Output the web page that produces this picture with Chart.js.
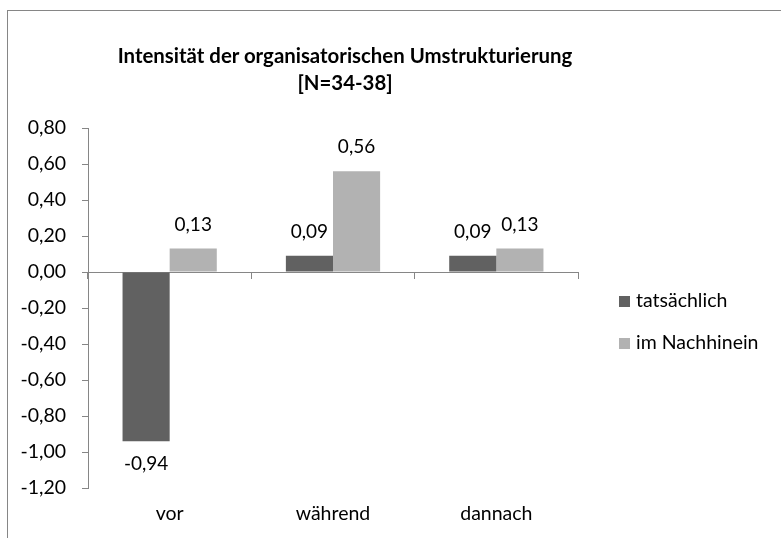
<!DOCTYPE html>
<html>
<head>
<meta charset="utf-8">
<script src="https://cdn.jsdelivr.net/npm/chart.js@4.4.1/dist/chart.umd.min.js"></script>
<style>
  body { margin: 0; background: #fff; }
  #wrap { position: relative; width: 781px; height: 538px; overflow: hidden; background: #fff; font-family: Lato, sans-serif; }
  #frame { position: absolute; left: 7px; top: 10px; width: 900px; height: 700px; border: 1px solid #868686; }
  #chart { position: absolute; left: 0; top: 0; }
  #title { position: absolute; left: 45px; width: 600px; top: 42px; text-align: center; font-weight: bold; font-size: 20.4px; line-height: 27px; color: #000; }
  #legend { position: absolute; left: 619px; top: 288px; font-size: 19.5px; color: #000; }
  #legend div { height: 24px; line-height: 24px; margin-bottom: 18px; white-space: nowrap; }
  #legend span { display: inline-block; width: 11px; height: 11px; margin-right: 6px; vertical-align: 0px; }
</style>
</head>
<body>
<div id="wrap">
  <div id="frame"></div>
  <canvas id="chart" width="781" height="538"></canvas>
  <div id="title">Intensität der organisatorischen Umstrukturierung<br>[N=34-38]</div>
  <div id="legend"></div>
</div>
<script>
const categories = ["vor", "während", "dannach"];
const seriesNames = ["tatsächlich", "im Nachhinein"];
const tatsaechlich = [-0.94, 0.09, 0.09];
const imNachhinein = [0.13, 0.56, 0.13];
const seriesColors = ["#616161", "#b2b2b2"];

const axisColor = "#868686";

function fmt(v) {
  if (Math.abs(v) < 1e-9) v = 0;
  return v.toFixed(2).replace(".", ",");
}

// labels over / under every bar
const valueLabels = {
  id: "valueLabels",
  afterDatasetsDraw(chart) {
    const ctx = chart.ctx;
    ctx.save();
    ctx.font = "19px Lato";
    ctx.fillStyle = "#000";
    ctx.textAlign = "center";
    ctx.textBaseline = "middle";
    chart.data.datasets.forEach((ds, i) => {
      chart.getDatasetMeta(i).data.forEach((bar, j) => {
        const v = ds.data[j];
        const y = v >= 0 ? bar.y - 24 : bar.y + 23;
        ctx.fillText(fmt(v), bar.x, y);
      });
    });
    ctx.restore();
  },
};

Chart.defaults.font.family = "Lato, sans-serif";
Chart.defaults.font.size = 19.5;
Chart.defaults.color = "#000";

const chart = new Chart(document.getElementById("chart"), {
  type: "bar",
  data: {
    labels: categories,
    datasets: [
      { label: seriesNames[0], data: tatsaechlich, backgroundColor: seriesColors[0] },
      { label: seriesNames[1], data: imNachhinein, backgroundColor: seriesColors[1] },
    ],
  },
  options: {
    responsive: false,
    animation: false,
    categoryPercentage: 0.577,
    barPercentage: 1,
    layout: { padding: { left: 0, right: 203, top: 128, bottom: 50 } },
    scales: {
      x: {
        position: { y: 0 },
        grid: { display: true, drawOnChartArea: false, offset: true, tickLength: 6, color: axisColor },
        border: { display: true, color: axisColor, width: 1 },
        ticks: { padding: 224, maxRotation: 0 },
        afterFit(scale) {
          scale.paddingLeft = 0;
          scale.paddingRight = 0;
          scale.paddingTop = 0;
          scale.paddingBottom = 0;
        },
      },
      y: {
        min: -1.2,
        max: 0.8,
        ticks: { stepSize: 0.2, padding: 16, callback: (v) => fmt(v) },
        grid: { drawOnChartArea: false, tickLength: 6, color: axisColor, tickColor: axisColor },
        border: { display: true, color: axisColor, width: 1 },
        afterFit(scale) { scale.width = 88; },
      },
    },
    plugins: {
      legend: { display: false },
      title: { display: false },
      tooltip: { enabled: false },
    },
  },
  plugins: [valueLabels],
});

// legend from the datasets
const legend = document.getElementById("legend");
chart.data.datasets.forEach((ds) => {
  const row = document.createElement("div");
  row.innerHTML = `<span style="background:${ds.backgroundColor}"></span>${ds.label}`;
  legend.appendChild(row);
});
</script>
</body>
</html>
